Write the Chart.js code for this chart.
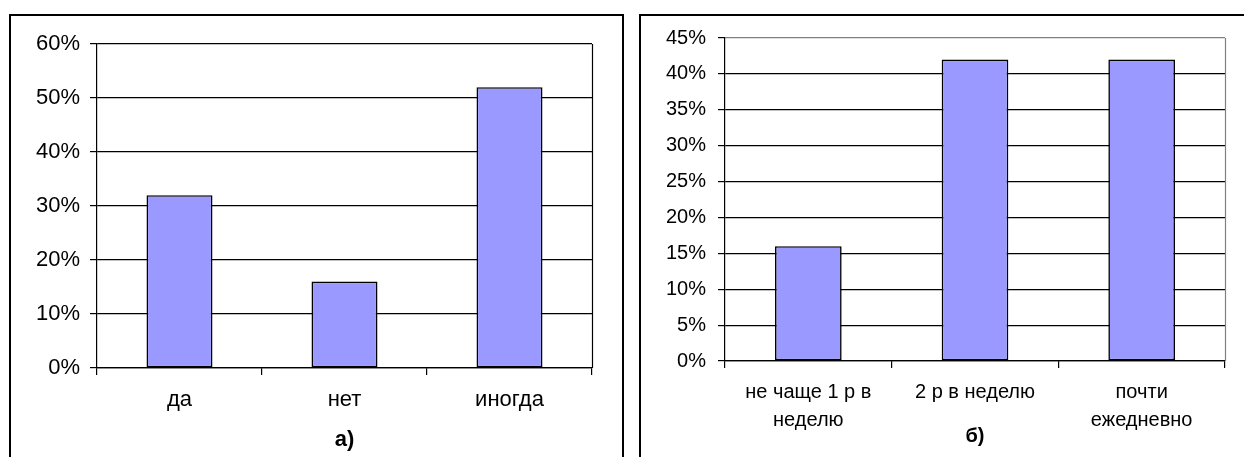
<!DOCTYPE html>
<html lang="ru">
<head>
<meta charset="utf-8">
<script src="https://cdn.jsdelivr.net/npm/chart.js@4.4.1/dist/chart.umd.min.js"></script>
<style>
  html, body { margin: 0; padding: 0; background: #fff; overflow: hidden; }
  #page { position: relative; width: 1244px; height: 457px; }
  .frame { position: absolute; box-sizing: border-box; border: 2px solid #000; }
  #frameA { left: 9px; top: 14px; width: 615px; height: 500px; }
  #frameB { left: 639px; top: 14px; width: 700px; height: 500px; }
  canvas { position: absolute; top: 0; }
  #chartA { left: 0; }
  #chartB { left: 630px; }
</style>
</head>
<body>
<div id="page">
  <div class="frame" id="frameA"></div>
  <div class="frame" id="frameB"></div>
  <canvas id="chartA" width="630" height="457"></canvas>
  <canvas id="chartB" width="614" height="457"></canvas>
</div>
<script>
// Панель а): ответы, % опрошенных
const answerLabels = ['да', 'нет', 'иногда'];
const answerShares = [32, 16, 52];
const answerTicks = [0, 10, 20, 30, 40, 50, 60];

// Панель б): частота, % опрошенных
const frequencyLabels = [['не чаще 1 р в', 'неделю'], '2 р в неделю', ['почти', 'ежедневно']];
const frequencyShares = [16, 42, 42];
const frequencyTicks = [0, 5, 10, 15, 20, 25, 30, 35, 40, 45];

const panelTitles = ['а)', 'б)'];

const FONT = '"Liberation Sans", Arial, sans-serif';

// Right edge of the plot area
const plotEdge = {
  id: 'plotEdge',
  beforeDatasetsDraw(chart, args, opts) {
    const { ctx, chartArea: a } = chart;
    const x = Math.round(a.right + 0.5) - 0.5;
    ctx.save();
    ctx.strokeStyle = opts.color || '#000';
    ctx.lineWidth = 1.2;
    ctx.beginPath();
    ctx.moveTo(x, a.top);
    ctx.lineTo(x, a.bottom);
    ctx.stroke();
    ctx.restore();
  }
};

function makeChart(canvasId, p) {
  const lastTick = p.ticks[p.ticks.length - 1];
  return new Chart(document.getElementById(canvasId), {
    type: 'bar',
    data: {
      labels: p.labels,
      datasets: [{
        data: p.values,
        backgroundColor: '#9999FF',
        borderColor: '#000',
        borderWidth: 1.6,
        borderSkipped: false,
        barPercentage: 0.4,
        categoryPercentage: 1
      }]
    },
    options: {
      responsive: false,
      animation: false,
      devicePixelRatio: 1,
      events: [],
      layout: { padding: { top: p.padTop, right: p.padRight, left: 0, bottom: 0 } },
      plugins: {
        legend: { display: false },
        tooltip: { enabled: false },
        plotEdge: { color: p.edgeColor }
      },
      scales: {
        x: {
          afterFit: s => { s.height = p.xHeight; },
          border: { display: true, color: '#000', width: 1.2 },
          grid: { drawOnChartArea: false, drawTicks: true, tickLength: 7, color: '#000', lineWidth: 1.2, offset: true },
          ticks: {
            color: '#000',
            font: { family: FONT, size: p.fontSize, lineHeight: p.labelLineHeight },
            padding: p.xPad,
            maxRotation: 0,
            minRotation: 0,
            autoSkip: false
          },
          title: {
            display: true,
            text: p.title,
            color: '#000',
            font: { family: FONT, size: p.fontSize, weight: 'bold', lineHeight: 1.2 },
            padding: { top: 0, bottom: p.titlePad }
          }
        },
        y: {
          min: 0,
          max: lastTick,
          afterBuildTicks: s => { s.ticks = p.ticks.map(v => ({ value: v })); },
          afterFit: s => { s.width = p.yWidth; },
          border: { display: true, color: '#000', width: 1.2 },
          grid: {
            color: c => (c.tick && c.tick.value === lastTick) ? p.topColor : '#000',
            tickColor: '#000',
            lineWidth: 1.2,
            drawTicks: true,
            tickLength: 7
          },
          ticks: {
            color: '#000',
            font: { family: FONT, size: p.fontSize },
            padding: p.yPad,
            callback: v => v + '%'
          }
        }
      }
    },
    plugins: [plotEdge]
  });
}

makeChart('chartA', {
  labels: answerLabels, values: answerShares, ticks: answerTicks, title: panelTitles[0],
  padTop: 44, padRight: 38, yWidth: 97, xHeight: 89,
  fontSize: 22, labelLineHeight: 1.2, xPad: 12, yPad: 10, titlePad: 4,
  edgeColor: '#000', topColor: '#000'
});

makeChart('chartB', {
  labels: frequencyLabels, values: frequencyShares, ticks: frequencyTicks, title: panelTitles[1],
  padTop: 38, padRight: 19, yWidth: 95, xHeight: 96,
  fontSize: 20, labelLineHeight: 1.415, xPad: 10, yPad: 12, titlePad: 9,
  edgeColor: '#808080', topColor: '#808080'
});
</script>
</body>
</html>
